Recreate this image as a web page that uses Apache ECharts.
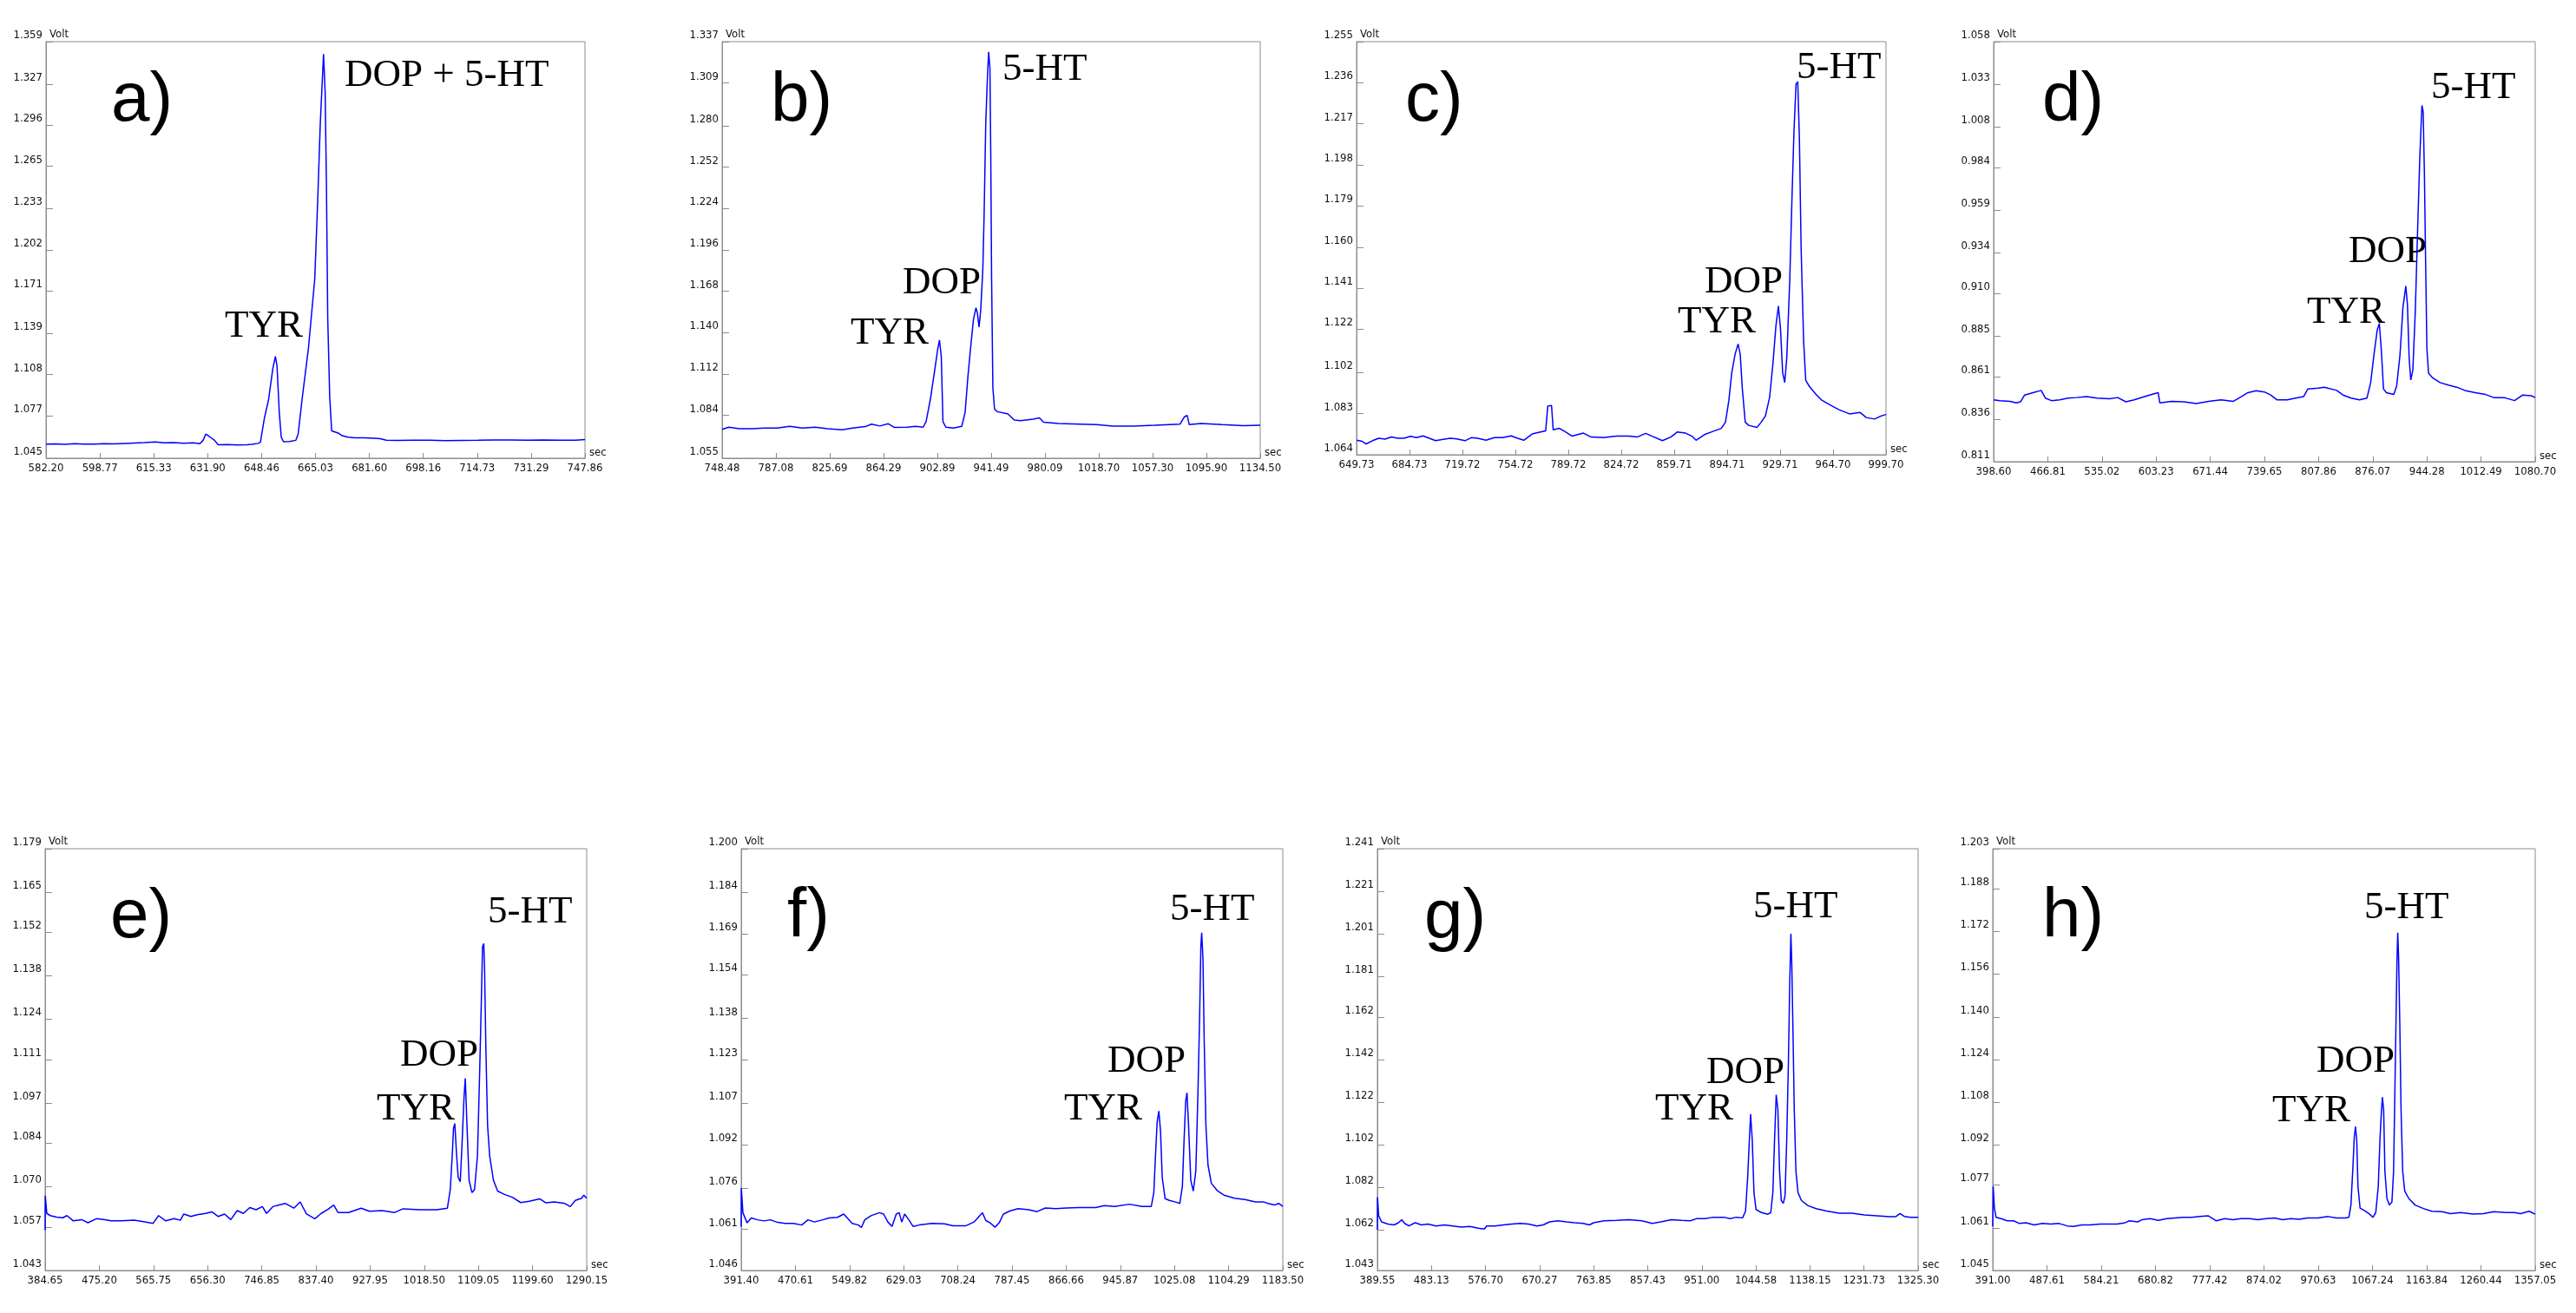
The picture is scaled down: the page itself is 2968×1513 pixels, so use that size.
<!DOCTYPE html>
<html>
<head>
<meta charset="utf-8">
<title>Chromatograms a) - h)</title>
<script src="https://cdn.jsdelivr.net/npm/echarts@6/dist/echarts.min.js"></script>
<style>
  html, body { margin: 0; padding: 0; background: #fff; }
  #chart { width: 2968px; height: 1513px; }
</style>
</head>
<body>
<div id="chart"></div>
<script>
// traces: [sec, Volt]
const traceA = [[582.20,1.0556],[585.0,1.0558],[588.0,1.0554],[591.0,1.0559],[593.8,1.0557],[597.0,1.0556],[600.0,1.0560],[603.0,1.0558],[606.7,1.0562],[609.5,1.0565],[612.5,1.0568],[615.8,1.0573],[618.5,1.0566],[621.5,1.0567],[624.5,1.0563],[627.4,1.0566],[629.5,1.0560],[630.5,1.0585],[631.3,1.0632],[632.5,1.0612],[634.0,1.0585],[635.1,1.0551],[638.0,1.0553],[641.0,1.0550],[644.0,1.0552],[645.5,1.0555],[647.4,1.0562],[648.1,1.0570],[649.3,1.0749],[650.6,1.0890],[651.9,1.1123],[652.7,1.1217],[653.2,1.1147],[653.9,1.0796],[654.5,1.0609],[655.2,1.0574],[657.0,1.0576],[659.0,1.0585],[659.7,1.0632],[661.0,1.0913],[662.9,1.1287],[664.8,1.1801],[665.7,1.2386],[666.5,1.2970],[667.5,1.3497],[668.0,1.3204],[668.4,1.2500],[668.8,1.1500],[669.4,1.0913],[670.0,1.0656],[672.0,1.0640],[673.2,1.0620],[675.0,1.0608],[677.1,1.0604],[680.0,1.0603],[683.0,1.0600],[684.9,1.0597],[686.8,1.0586],[690.0,1.0584],[695.0,1.0586],[700.0,1.0585],[705.0,1.0583],[710.0,1.0584],[715.0,1.0585],[720.0,1.0588],[725.0,1.0587],[730.0,1.0586],[735.0,1.0587],[740.0,1.0585],[745.0,1.0586],[747.86,1.0590]];
const traceB = [[748.48,1.0745],[753.3,1.0760],[760.8,1.0750],[769.9,1.0750],[778.9,1.0754],[787.9,1.0754],[797.0,1.0766],[806.0,1.0754],[815.0,1.0760],[824.1,1.0750],[834.6,1.0743],[842.1,1.0754],[851.2,1.0764],[855.7,1.0781],[861.7,1.0768],[867.7,1.0783],[872.2,1.0758],[881.3,1.0760],[887.3,1.0766],[892.7,1.0760],[894.8,1.0798],[897.8,1.0945],[900.8,1.1134],[903.2,1.1291],[904.4,1.1350],[905.7,1.1239],[906.9,1.0798],[909.0,1.0760],[914.4,1.0754],[920.4,1.0766],[922.8,1.0861],[924.9,1.1113],[927.0,1.1323],[928.8,1.1491],[930.6,1.1568],[931.6,1.1533],[932.8,1.1438],[934.0,1.1554],[935.5,1.1827],[936.4,1.2184],[937.6,1.2814],[938.8,1.3129],[939.7,1.3301],[940.6,1.3192],[941.2,1.2604],[941.8,1.1764],[942.7,1.1029],[943.9,1.0882],[946.0,1.0865],[953.5,1.0850],[958.1,1.0808],[962.6,1.0804],[971.6,1.0815],[976.1,1.0823],[979.1,1.0794],[989.7,1.0785],[1004.7,1.0781],[1016.8,1.0777],[1028.8,1.0768],[1043.9,1.0768],[1058.9,1.0773],[1077.0,1.0781],[1080.0,1.0829],[1082.1,1.0840],[1083.6,1.0777],[1092.1,1.0785],[1107.1,1.0777],[1122.2,1.0771],[1134.5,1.0773]];
const traceC = [[649.73,1.0707],[653.34,1.0702],[656.12,1.0690],[660.28,1.0705],[664.45,1.0716],[668.62,1.0712],[672.78,1.0722],[676.95,1.0716],[681.12,1.0716],[685.28,1.0725],[689.45,1.0719],[693.62,1.0727],[697.78,1.0716],[701.95,1.0705],[706.11,1.0710],[711.67,1.0716],[715.83,1.0713],[721.39,1.0705],[725.55,1.0719],[729.72,1.0716],[735.28,1.0707],[740.83,1.0719],[746.39,1.0719],[751.94,1.0727],[756.11,1.0716],[760.27,1.0707],[765.83,1.0736],[771.38,1.0745],[774.72,1.0750],[776.11,1.0865],[778.61,1.0868],[779.72,1.0755],[783.89,1.0762],[788.05,1.0745],[792.22,1.0726],[799.72,1.0740],[804.71,1.0722],[813.05,1.0719],[821.38,1.0726],[829.71,1.0726],[835.27,1.0722],[840.82,1.0739],[844.99,1.0726],[851.93,1.0705],[857.49,1.0722],[861.65,1.0745],[867.21,1.0740],[871.37,1.0726],[874.15,1.0707],[879.71,1.0733],[885.26,1.0748],[890.82,1.0762],[893.60,1.0791],[895.82,1.0891],[897.76,1.1020],[899.98,1.1106],[901.93,1.1152],[903.32,1.1106],[904.70,1.0948],[906.65,1.0791],[908.87,1.0776],[914.43,1.0766],[917.21,1.0791],[919.98,1.0819],[922.76,1.0905],[924.98,1.1063],[926.93,1.1235],[928.59,1.1328],[929.98,1.1221],[931.37,1.1020],[932.76,1.0974],[934.15,1.1092],[936.09,1.1450],[937.48,1.1809],[938.87,1.2138],[940.26,1.2354],[941.37,1.2365],[942.48,1.2095],[943.59,1.1594],[945.26,1.1163],[946.65,1.0984],[949.15,1.0955],[953.31,1.0920],[957.48,1.0891],[963.03,1.0869],[968.59,1.0848],[975.53,1.0829],[982.47,1.0836],[986.64,1.0812],[992.19,1.0805],[996.37,1.0819],[999.70,1.0826]];
const traceD = [[398.60,0.8474],[406.41,0.8469],[419.43,0.8465],[427.24,0.8456],[432.44,0.8462],[437.65,0.8502],[448.07,0.8516],[458.48,0.8529],[463.69,0.8484],[471.50,0.8469],[481.91,0.8474],[492.32,0.8484],[502.74,0.8487],[515.76,0.8493],[528.77,0.8484],[544.39,0.8480],[554.81,0.8487],[565.22,0.8462],[575.63,0.8474],[588.65,0.8493],[601.67,0.8511],[605.83,0.8516],[607.92,0.8456],[622.50,0.8465],[638.12,0.8462],[653.74,0.8452],[669.36,0.8465],[684.98,0.8474],[700.60,0.8465],[711.01,0.8493],[718.82,0.8516],[729.24,0.8527],[739.65,0.8520],[747.46,0.8502],[755.27,0.8474],[768.29,0.8474],[778.70,0.8484],[789.12,0.8493],[794.32,0.8538],[807.34,0.8542],[815.15,0.8548],[830.77,0.8529],[838.58,0.8502],[849.00,0.8484],[859.41,0.8474],[868.78,0.8484],[873.47,0.8575],[877.63,0.8740],[881.80,0.8886],[884.40,0.8923],[887.01,0.8758],[889.61,0.8538],[893.26,0.8516],[902.63,0.8505],[906.27,0.8557],[910.44,0.8740],[914.08,0.9015],[917.73,0.9143],[919.81,0.9033],[921.90,0.8722],[923.98,0.8590],[926.58,0.8648],[929.70,0.8996],[932.83,0.9509],[935.43,0.9912],[938.04,1.0205],[939.60,1.0168],[941.16,0.9802],[942.72,0.9271],[944.28,0.8776],[946.37,0.8630],[951.57,0.8603],[960.95,0.8575],[971.36,0.8560],[981.77,0.8548],[992.19,0.8529],[1005.20,0.8516],[1018.22,0.8505],[1028.63,0.8487],[1041.65,0.8487],[1054.67,0.8469],[1065.08,0.8502],[1075.50,0.8498],[1080.70,0.8487]];
const traceE = [[384.65,1.0560],[384.9,1.0671],[387.46,1.0614],[393.08,1.0607],[403.62,1.0602],[414.15,1.0600],[421.18,1.0607],[431.72,1.0590],[445.77,1.0594],[456.30,1.0584],[470.35,1.0597],[484.40,1.0594],[494.94,1.0590],[512.50,1.0590],[533.58,1.0592],[551.14,1.0587],[565.19,1.0582],[574.32,1.0607],[586.26,1.0590],[600.31,1.0597],[610.85,1.0592],[616.47,1.0612],[628.41,1.0604],[638.95,1.0610],[653.00,1.0614],[663.53,1.0619],[674.07,1.0604],[684.61,1.0612],[695.15,1.0594],[705.68,1.0623],[716.22,1.0614],[726.76,1.0633],[737.30,1.0626],[747.83,1.0636],[754.86,1.0614],[765.39,1.0636],[775.93,1.0641],[786.47,1.0646],[800.52,1.0631],[811.06,1.0651],[821.59,1.0612],[835.64,1.0597],[846.18,1.0614],[856.72,1.0626],[867.25,1.0641],[874.28,1.0617],[891.84,1.0617],[912.91,1.0631],[926.96,1.0621],[948.05,1.0623],[969.11,1.0617],[983.16,1.0629],[1011.26,1.0626],[1039.36,1.0626],[1057.22,1.0631],[1062.04,1.0691],[1065.55,1.0810],[1067.46,1.0889],[1069.57,1.0904],[1072.38,1.0810],[1075.19,1.0731],[1078.70,1.0716],[1081.51,1.0830],[1085.02,1.0988],[1087.13,1.1050],[1089.94,1.0899],[1093.45,1.0721],[1098.37,1.0681],[1102.58,1.0691],[1107.50,1.0800],[1111.01,1.1058],[1113.82,1.1286],[1115.93,1.1474],[1118.04,1.1484],[1119.44,1.1395],[1121.55,1.1147],[1124.36,1.0899],[1127.87,1.0800],[1134.19,1.0721],[1141.22,1.0686],[1151.76,1.0676],[1165.81,1.0666],[1179.86,1.0649],[1193.91,1.0653],[1211.47,1.0661],[1222.01,1.0648],[1236.06,1.0651],[1253.62,1.0646],[1262.75,1.0636],[1271.18,1.0656],[1281.72,1.0663],[1285.23,1.0673],[1290.15,1.0663]];
const traceF = [[391.40,1.0620],[391.6,1.0761],[393.86,1.0671],[400.00,1.0634],[406.15,1.0652],[415.37,1.0645],[424.58,1.0641],[433.80,1.0645],[443.02,1.0637],[455.31,1.0632],[467.60,1.0632],[479.89,1.0626],[489.11,1.0645],[498.33,1.0637],[510.61,1.0645],[519.83,1.0652],[532.12,1.0654],[541.34,1.0666],[547.49,1.0649],[553.63,1.0632],[562.85,1.0626],[567.15,1.0617],[572.07,1.0645],[581.28,1.0660],[593.57,1.0671],[599.72,1.0666],[605.86,1.0637],[612.01,1.0621],[618.15,1.0666],[622.46,1.0671],[626.14,1.0637],[630.44,1.0666],[636.59,1.0645],[642.73,1.0621],[651.95,1.0626],[670.39,1.0632],[688.82,1.0630],[701.11,1.0623],[719.55,1.0623],[731.84,1.0637],[744.13,1.0671],[749.05,1.0643],[756.42,1.0632],[762.57,1.0618],[768.71,1.0634],[774.85,1.0666],[784.07,1.0677],[796.36,1.0686],[811.72,1.0682],[824.02,1.0675],[836.31,1.0688],[851.67,1.0686],[867.03,1.0688],[885.47,1.0690],[897.76,1.0690],[910.05,1.0690],[922.34,1.0697],[937.70,1.0694],[959.21,1.0702],[977.64,1.0694],[991.16,1.0694],[994.85,1.0744],[997.30,1.0879],[999.76,1.1003],[1002.22,1.1042],[1004.68,1.0969],[1007.14,1.0800],[1011.44,1.0722],[1017.59,1.0716],[1026.80,1.0710],[1032.95,1.0705],[1036.64,1.0767],[1039.09,1.0935],[1041.55,1.1081],[1043.40,1.1109],[1045.85,1.0980],[1048.93,1.0789],[1052.61,1.0750],[1056.30,1.0823],[1059.37,1.1104],[1061.83,1.1384],[1063.67,1.1643],[1064.90,1.1693],[1066.75,1.1598],[1068.59,1.1295],[1071.05,1.0991],[1074.12,1.0845],[1079.04,1.0778],[1088.26,1.0750],[1097.47,1.0735],[1112.84,1.0724],[1128.20,1.0719],[1143.56,1.0710],[1155.85,1.0710],[1162.00,1.0705],[1171.21,1.0699],[1177.36,1.0705],[1183.50,1.0694]];
const traceG = [[389.55,1.0620],[389.7,1.0774],[391.73,1.0687],[396.82,1.0658],[407.71,1.0648],[418.61,1.0644],[425.88,1.0654],[431.69,1.0668],[436.77,1.0651],[444.04,1.0639],[454.94,1.0654],[465.83,1.0644],[476.73,1.0648],[491.26,1.0639],[505.79,1.0644],[520.32,1.0639],[534.85,1.0634],[549.38,1.0637],[563.91,1.0629],[574.81,1.0625],[578.44,1.0639],[592.97,1.0639],[607.50,1.0644],[622.03,1.0648],[636.56,1.0651],[651.09,1.0648],[665.62,1.0639],[676.52,1.0644],[687.42,1.0658],[701.95,1.0663],[716.48,1.0658],[731.01,1.0654],[745.54,1.0651],[756.44,1.0644],[763.70,1.0654],[781.87,1.0663],[803.66,1.0665],[825.46,1.0668],[847.25,1.0663],[865.41,1.0651],[879.94,1.0658],[898.11,1.0668],[916.27,1.0665],[930.80,1.0663],[941.70,1.0673],[956.23,1.0673],[970.76,1.0680],[988.92,1.0680],[999.82,1.0673],[1010.72,1.0680],[1021.61,1.0677],[1026.70,1.0709],[1030.33,1.0868],[1033.24,1.1041],[1035.42,1.1164],[1038.32,1.1041],[1041.23,1.0795],[1044.86,1.0716],[1054.31,1.0702],[1065.20,1.0694],[1070.29,1.0702],[1073.92,1.0795],[1076.83,1.1041],[1079.73,1.1255],[1082.64,1.1185],[1085.54,1.0896],[1088.45,1.0759],[1092.08,1.0745],[1094.99,1.0781],[1097.90,1.1041],[1100.80,1.1402],[1102.98,1.1763],[1105.16,1.2011],[1106.61,1.1879],[1108.79,1.1546],[1110.97,1.1185],[1113.88,1.0896],[1117.51,1.0795],[1123.33,1.0759],[1134.22,1.0735],[1148.75,1.0720],[1166.92,1.0709],[1188.71,1.0699],[1210.51,1.0699],[1232.30,1.0691],[1254.10,1.0687],[1275.89,1.0683],[1286.79,1.0683],[1294.05,1.0697],[1301.32,1.0684],[1312.20,1.0680],[1325.30,1.0680]];
const traceH = [[391.00,1.0615],[391.74,1.0765],[393.95,1.0684],[396.90,1.0649],[405.75,1.0644],[416.81,1.0636],[427.87,1.0636],[438.93,1.0626],[449.99,1.0629],[464.74,1.0621],[479.49,1.0626],[494.24,1.0624],[508.99,1.0626],[523.74,1.0617],[534.80,1.0615],[549.55,1.0621],[564.30,1.0621],[582.73,1.0624],[597.48,1.0624],[612.23,1.0624],[626.98,1.0629],[634.36,1.0636],[649.10,1.0632],[656.48,1.0640],[671.23,1.0644],[685.98,1.0638],[700.72,1.0644],[715.47,1.0647],[730.22,1.0649],[744.97,1.0649],[759.72,1.0652],[774.47,1.0655],[789.22,1.0636],[803.97,1.0644],[818.72,1.0640],[833.46,1.0644],[848.21,1.0644],[862.96,1.0640],[877.71,1.0644],[892.46,1.0647],[907.21,1.0640],[921.96,1.0644],[936.71,1.0642],[951.45,1.0647],[969.89,1.0647],[988.33,1.0652],[1003.08,1.0647],[1017.82,1.0647],[1025.20,1.0649],[1028.89,1.0695],[1032.57,1.0845],[1034.79,1.0949],[1037.00,1.0989],[1039.21,1.0937],[1041.42,1.0765],[1045.11,1.0684],[1054.70,1.0672],[1062.07,1.0661],[1067.97,1.0649],[1073.13,1.0667],[1077.56,1.0765],[1080.51,1.0937],[1082.72,1.1030],[1084.93,1.1099],[1087.14,1.1053],[1089.36,1.0822],[1093.04,1.0719],[1097.47,1.0695],[1101.89,1.0707],[1104.84,1.0822],[1107.06,1.1110],[1109.27,1.1398],[1110.74,1.1594],[1112.22,1.1715],[1113.69,1.1629],[1115.90,1.1375],[1118.11,1.1053],[1121.06,1.0822],[1124.75,1.0747],[1132.13,1.0719],[1143.19,1.0695],[1157.94,1.0682],[1172.69,1.0672],[1191.12,1.0670],[1205.87,1.0663],[1224.31,1.0667],[1246.43,1.0661],[1264.86,1.0663],[1283.30,1.0670],[1305.43,1.0667],[1320.17,1.0667],[1331.24,1.0663],[1345.99,1.0672],[1351.15,1.0667],[1357.05,1.0661]];

// tick labels as printed on each panel (first = min, last = max)
const yTicksA = ['1.045','1.077','1.108','1.139','1.171','1.202','1.233','1.265','1.296','1.327','1.359'];
const xTicksA = ['582.20','598.77','615.33','631.90','648.46','665.03','681.60','698.16','714.73','731.29','747.86'];
const yTicksB = ['1.055','1.084','1.112','1.140','1.168','1.196','1.224','1.252','1.280','1.309','1.337'];
const xTicksB = ['748.48','787.08','825.69','864.29','902.89','941.49','980.09','1018.70','1057.30','1095.90','1134.50'];
const yTicksC = ['1.064','1.083','1.102','1.122','1.141','1.160','1.179','1.198','1.217','1.236','1.255'];
const xTicksC = ['649.73','684.73','719.72','754.72','789.72','824.72','859.71','894.71','929.71','964.70','999.70'];
const yTicksD = ['0.811','0.836','0.861','0.885','0.910','0.934','0.959','0.984','1.008','1.033','1.058'];
const xTicksD = ['398.60','466.81','535.02','603.23','671.44','739.65','807.86','876.07','944.28','1012.49','1080.70'];
const yTicksE = ['1.043','1.057','1.070','1.084','1.097','1.111','1.124','1.138','1.152','1.165','1.179'];
const xTicksE = ['384.65','475.20','565.75','656.30','746.85','837.40','927.95','1018.50','1109.05','1199.60','1290.15'];
const yTicksF = ['1.046','1.061','1.076','1.092','1.107','1.123','1.138','1.154','1.169','1.184','1.200'];
const xTicksF = ['391.40','470.61','549.82','629.03','708.24','787.45','866.66','945.87','1025.08','1104.29','1183.50'];
const yTicksG = ['1.043','1.062','1.082','1.102','1.122','1.142','1.162','1.181','1.201','1.221','1.241'];
const xTicksG = ['389.55','483.13','576.70','670.27','763.85','857.43','951.00','1044.58','1138.15','1231.73','1325.30'];
const yTicksH = ['1.045','1.061','1.077','1.092','1.108','1.124','1.140','1.156','1.172','1.188','1.203'];
const xTicksH = ['391.00','487.61','584.21','680.82','777.42','874.02','970.63','1067.24','1163.84','1260.44','1357.05'];

// panel letters and peak names
const panelNames = ['a)','b)','c)','d)','e)','f)','g)','h)'];
const peakNames = [
  ['DOP + 5-HT','TYR'],
  ['5-HT','DOP','TYR'],
  ['5-HT','DOP','TYR'],
  ['5-HT','DOP','TYR'],
  ['5-HT','DOP','TYR'],
  ['5-HT','DOP','TYR'],
  ['5-HT','DOP','TYR'],
  ['5-HT','DOP','TYR']
];

// page layout (px): plot box of each panel, and where its texts sit (left, baseline)
const boxes = [
  [53, 48, 674, 528], [832, 48, 1452, 528], [1563, 48, 2173, 524], [2297, 48, 2921, 532],
  [52, 978, 676, 1464], [854, 978, 1478, 1464], [1587, 978, 2210, 1464], [2296, 978, 2921, 1464]
];
const letterPos = [[128,145],[888,145],[1619,145],[2353,145],[127,1086],[907,1085],[1641,1086],[2353,1085]];
const peakPos = [
  [[397,102],[259,391]],
  [[1155,95],[1040,341],[980,399]],
  [[2070,93],[1964,340],[1933,386]],
  [[2801,116],[2706,305],[2658,375]],
  [[562,1066],[461,1231],[434,1293]],
  [[1348,1063],[1276,1238],[1226,1293]],
  [[2020,1060],[1966,1251],[1907,1293]],
  [[2724,1061],[2669,1238],[2618,1295]]
];

const traces = [traceA, traceB, traceC, traceD, traceE, traceF, traceG, traceH];
const yTicks = [yTicksA, yTicksB, yTicksC, yTicksD, yTicksE, yTicksF, yTicksG, yTicksH];
const xTicks = [xTicksA, xTicksB, xTicksC, xTicksD, xTicksE, xTicksF, xTicksG, xTicksH];

const GREY = '#8c8c8c';
const TXT = '#111';
const NARROW = '"Liberation Sans Narrow", "DejaVu Sans Condensed", "Arial Narrow", sans-serif';
const LETTER_SIZE = 80;
const PEAK_SIZE = 45;

// label text for a tick value: the printed string it came from
const labelFor = (list) => (v) => list.find(s => Math.abs(parseFloat(s) - v) < 1e-9) || '';

const grids = [], xAxes = [], yAxes = [], series = [], graphics = [];

traces.forEach((trace, i) => {
  const [l, t, r, b] = boxes[i];
  const xs = xTicks[i].map(parseFloat);
  const ys = yTicks[i].map(parseFloat);

  grids.push({
    left: l, top: t, width: r - l, height: b - t,
    show: true, borderColor: GREY, borderWidth: 1, backgroundColor: 'transparent'
  });

  xAxes.push({
    gridIndex: i, type: 'value',
    min: xs[0], max: xs[xs.length - 1],
    axisLine: { show: true, onZero: false, lineStyle: { color: GREY, width: 1 } },
    axisTick: { show: true, inside: true, length: 6, customValues: xs, lineStyle: { color: GREY } },
    axisLabel: {
      customValues: xs, formatter: labelFor(xTicks[i]),
      fontFamily: NARROW, fontSize: 13, color: TXT, margin: 5
    },
    splitLine: { show: false },
    name: 'sec', nameLocation: 'end', nameGap: 5,
    nameTextStyle: { fontFamily: NARROW, fontSize: 13, color: TXT, align: 'left', verticalAlign: 'bottom' }
  });

  yAxes.push({
    gridIndex: i, type: 'value',
    min: ys[0], max: ys[ys.length - 1],
    axisLine: { show: true, onZero: false, lineStyle: { color: GREY, width: 1 } },
    axisTick: { show: true, inside: true, length: 8, customValues: ys, lineStyle: { color: GREY } },
    axisLabel: {
      customValues: ys, formatter: labelFor(yTicks[i]),
      fontFamily: NARROW, fontSize: 13, color: TXT, margin: 4,
      verticalAlign: 'bottom', lineHeight: 15
    },
    splitLine: { show: false },
    name: 'Volt', nameLocation: 'end', nameGap: 8,
    nameTextStyle: { fontFamily: NARROW, fontSize: 13, color: TXT, align: 'left', verticalAlign: 'middle', padding: [0, 0, 0, 4] }
  });

  series.push({
    type: 'line', xAxisIndex: i, yAxisIndex: i,
    data: trace, showSymbol: false, symbol: 'none', silent: true,
    lineStyle: { color: '#0000ff', width: 1.5 }
  });

  // panel letter
  graphics.push({
    type: 'text', x: letterPos[i][0], y: letterPos[i][1] - LETTER_SIZE * 0.35,
    style: {
      text: panelNames[i], fill: '#000', align: 'left', verticalAlign: 'middle',
      font: LETTER_SIZE + 'px "Liberation Sans", Arial, sans-serif'
    }
  });
  // peak names
  peakNames[i].forEach((name, k) => {
    graphics.push({
      type: 'text', x: peakPos[i][k][0], y: peakPos[i][k][1] - PEAK_SIZE * 0.34,
      style: {
        text: name, fill: '#000', align: 'left', verticalAlign: 'middle',
        font: PEAK_SIZE + 'px "Liberation Serif", "Times New Roman", serif'
      }
    });
  });
});

const chart = echarts.init(document.getElementById('chart'), null, { renderer: 'canvas' });
chart.setOption({
  backgroundColor: '#fff',
  animation: false,
  grid: grids,
  xAxis: xAxes,
  yAxis: yAxes,
  series: series,
  graphic: graphics
});
</script>
</body>
</html>
